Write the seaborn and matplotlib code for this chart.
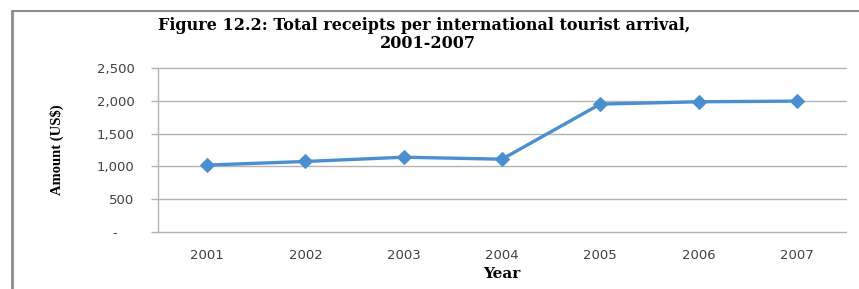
import matplotlib
matplotlib.use("Agg")
import matplotlib.pyplot as plt
import seaborn as sns
import pandas as pd
from matplotlib.lines import Line2D
from matplotlib.ticker import FixedLocator, FuncFormatter

years = ["2001", "2002", "2003", "2004", "2005", "2006", "2007"]
receipts = [1020, 1075, 1140, 1110, 1950, 1985, 1995]
y_ticks = [0, 500, 1000, 1500, 2000, 2500]
title_line1 = "Figure 12.2: Total receipts per international tourist arrival,"
title_line2 = "2001-2007"
x_label = "Year"
y_label = "Amount (US$)"

df = pd.DataFrame({"Year": years, "Amount": receipts})

sns.set_theme(style="white")
W, H = 859, 289
fig = plt.figure(figsize=(W / 100, H / 100), dpi=100)
ax = fig.add_axes([158 / W, 1 - 232 / H, (846 - 158) / W, (232 - 68) / H])

line_color = "#4A8FCF"
sns.lineplot(data=df, x="Year", y="Amount", ax=ax, color=line_color,
             linewidth=2.4, marker="D", markersize=7.5,
             markeredgecolor=line_color, markerfacecolor=line_color)

ax.set_xlim(-0.5, 6.5)
ax.set_ylim(0, 2500)
ax.yaxis.set_major_locator(FixedLocator(y_ticks))
ax.yaxis.set_major_formatter(FuncFormatter(lambda v, p: "-    " if v == 0 else f"{int(v):,}"))

grid_color = "#b3b3b3"
for v in y_ticks:
    ax.axhline(v, color=grid_color, linewidth=1.0, zorder=0, clip_on=False)

for s in ["top", "right", "bottom"]:
    ax.spines[s].set_visible(False)
ax.spines["left"].set_color(grid_color)
ax.spines["left"].set_linewidth(1.0)

tick_color = "#404040"
ax.tick_params(axis="y", which="major", left=True, length=5, width=1.0,
               color=grid_color, pad=12, labelsize=9.5, labelcolor=tick_color)
ax.tick_params(axis="x", which="major", bottom=False, pad=6,
               labelsize=9.5, labelcolor=tick_color)
for lbl in ax.get_xticklabels() + ax.get_yticklabels():
    lbl.set_fontfamily("DejaVu Sans")

ax.set_xlabel("")
ax.set_ylabel("")

fig.text(502 / W, 1 - 274 / H, x_label, ha="center", va="center",
         fontsize=11, fontweight="bold", family="DejaVu Serif", color="black")
fig.text(57 / W, 1 - 150 / H, y_label, ha="center", va="center", rotation=90,
         fontsize=10.5, fontweight="bold", family="Liberation Serif", color="black")

fig.text(424 / W, 1 - 26 / H, title_line1, ha="center", va="center",
         fontsize=11.5, fontweight="bold", family="DejaVu Serif", color="black")
fig.text(428 / W, 1 - 43 / H, title_line2, ha="center", va="center",
         fontsize=11.5, fontweight="bold", family="DejaVu Serif", color="black")

# chart frame (partially visible)
frame_color = "#8c8c8c"
fig.add_artist(Line2D([12 / W, 1.0], [1 - 11 / H, 1 - 11 / H], transform=fig.transFigure,
                      color=frame_color, linewidth=1.5))
fig.add_artist(Line2D([12 / W, 12 / W], [0.0, 1 - 11 / H], transform=fig.transFigure,
                      color=frame_color, linewidth=2.0))

fig.savefig("out.png", dpi=100)
